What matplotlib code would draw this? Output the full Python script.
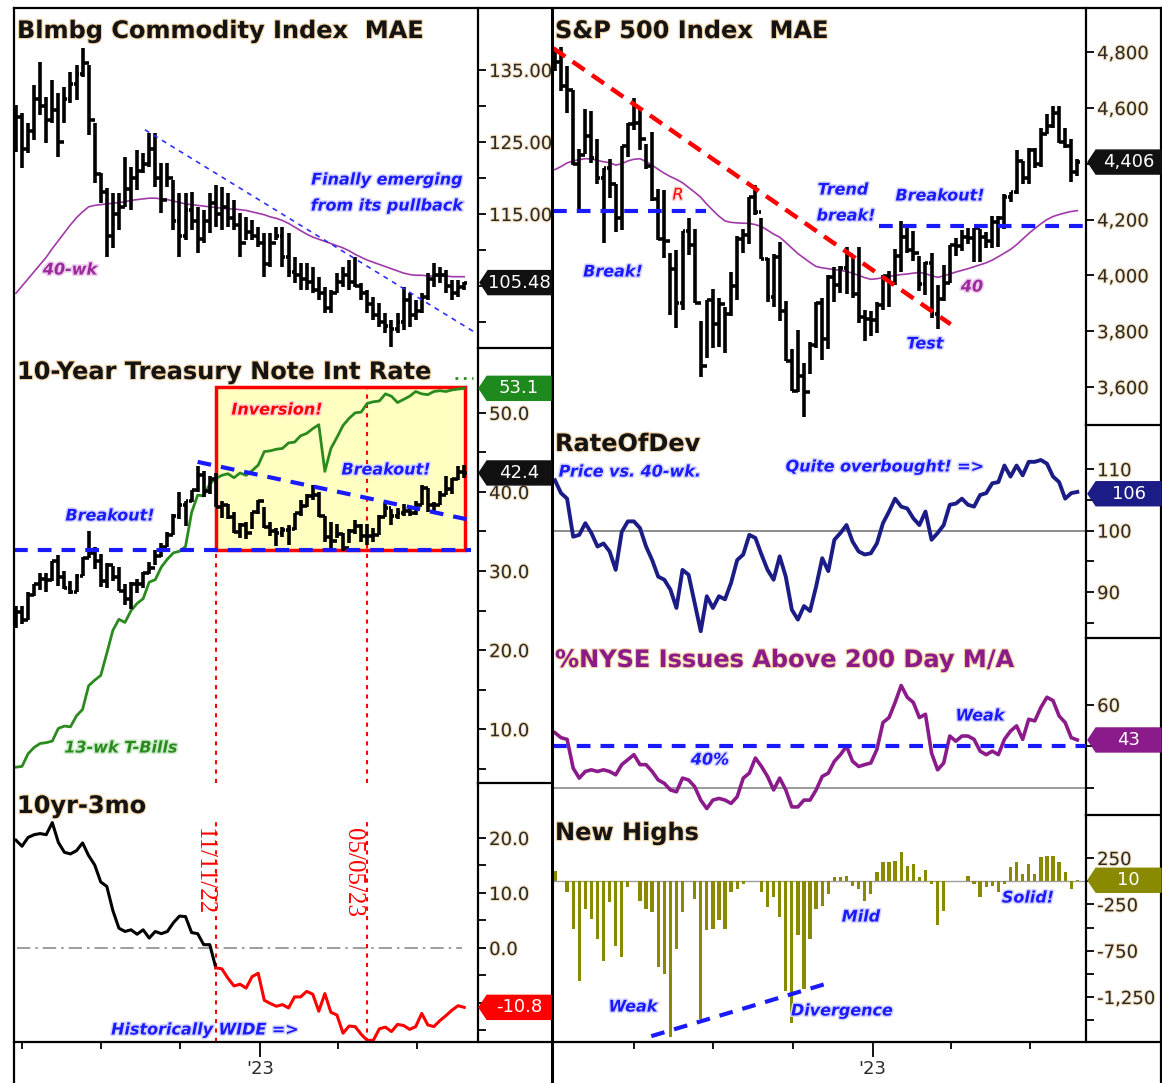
import numpy as np
import pandas as pd
import matplotlib
matplotlib.use("Agg")
import matplotlib.pyplot as plt
import matplotlib.dates as mdates
import matplotlib.patheffects as pe
from matplotlib.lines import Line2D
from matplotlib.patches import Polygon, Rectangle
from matplotlib.ticker import FixedLocator, FixedFormatter

W, H = 1162, 1083

# --- left column: weekly data, week ending 2022-03-25 .. 2023-08-25 ---
bcom_hi = [130.1, 129.0, 127.6, 132.9, 136.1, 131.3, 133.6, 131.8, 132.6, 134.7,
           135.7, 138.1, 135.7, 127.6, 120.7, 118.6, 117.9, 117.9, 122.9, 121.5,
           123.9, 123.5, 126.2, 126.2, 122.1, 122.1, 119.7, 117.9, 117.9, 118.1,
           116.0, 115.6, 117.9, 119.0, 118.8, 117.9, 116.9, 115.1, 114.6, 114.2,
           113.2, 112.4, 112.4, 113.2, 113.2, 112.4, 109.0, 108.2, 108.2, 107.6,
           106.2, 104.9, 104.4, 106.8, 107.6, 108.6, 109.0, 105.4, 104.4, 103.5,
           102.6, 101.3, 100.3, 101.3, 104.9, 104.0, 103.1, 104.0, 106.8, 108.2,
           107.6, 107.2, 105.8, 105.8, 105.6]
bcom_lo = [123.6, 121.4, 123.5, 125.3, 128.8, 124.9, 127.6, 122.9, 127.6, 130.4,
           130.8, 134.0, 126.0, 119.3, 116.5, 109.0, 110.3, 112.8, 116.0, 115.6,
           118.3, 120.7, 121.5, 118.8, 115.1, 118.8, 112.8, 109.0, 111.4, 112.8,
           109.6, 111.0, 112.4, 113.2, 112.8, 113.2, 112.8, 109.0, 111.4, 111.4,
           110.4, 106.2, 107.6, 111.4, 107.6, 106.2, 105.4, 104.4, 104.4, 104.0,
           103.1, 101.3, 101.3, 104.0, 104.9, 104.4, 104.9, 103.1, 101.3, 100.3,
           99.3, 98.5, 96.5, 98.5, 98.9, 99.3, 100.3, 101.3, 103.1, 104.9,
           105.4, 104.0, 103.1, 103.5, 104.4]
bcom_cl = [128.5, 124.0, 126.5, 131.0, 130.0, 128.0, 129.5, 125.0, 131.0, 133.0,
           134.5, 136.0, 128.0, 120.5, 118.0, 112.0, 115.0, 116.0, 118.5, 120.0,
           121.0, 122.0, 124.0, 120.0, 117.0, 120.0, 114.0, 112.0, 115.5, 114.0,
           111.5, 114.0, 116.5, 115.0, 116.0, 114.5, 113.5, 111.0, 112.5, 112.0,
           111.0, 108.0, 111.0, 112.0, 109.0, 107.0, 106.5, 106.0, 105.5, 104.5,
           104.0, 102.0, 104.0, 105.5, 106.5, 105.5, 105.0, 104.0, 102.5, 101.0,
           100.0, 99.5, 99.0, 100.0, 103.0, 101.0, 101.5, 103.5, 106.0, 106.5,
           106.5, 105.0, 104.0, 104.8, 105.48]
bcom_ma40 = [104.0, 105.0, 106.0, 107.0, 108.0, 109.0, 110.2, 111.3, 112.4, 113.5,
             114.5, 115.3, 116.0, 116.2, 116.3, 116.4, 116.5, 116.6, 116.7, 116.9,
             117.0, 117.1, 117.2, 117.2, 117.1, 117.0, 116.8, 116.6, 116.4, 116.3,
             116.2, 116.1, 116.0, 115.9, 115.8, 115.7, 115.7, 115.6, 115.5, 115.3,
             115.1, 114.9, 114.6, 114.4, 114.1, 113.7, 113.2, 112.7, 112.2, 111.8,
             111.5, 111.2, 110.9, 110.6, 110.3, 109.9, 109.4, 109.0, 108.6, 108.3,
             108.0, 107.7, 107.4, 107.1, 106.8, 106.6, 106.5, 106.5, 106.4, 106.4,
             106.4, 106.4, 106.3, 106.3, 106.3]

tnx_hi = [25.6, 25.6, 27.3, 28.4, 29.8, 29.8, 31.3, 32.0, 30.0, 28.7,
          29.6, 31.8, 35.0, 33.0, 32.2, 31.0, 30.7, 30.5, 28.4, 28.6,
          29.0, 29.9, 31.1, 32.7, 33.6, 34.9, 37.2, 40.0, 38.9, 40.2,
          43.3, 42.6, 42.0, 42.4, 38.9, 38.5, 37.5, 36.1, 36.2, 37.5,
          39.0, 38.1, 36.2, 35.5, 35.6, 35.8, 37.4, 39.0, 39.7, 40.9,
          40.0, 36.9, 36.2, 36.0, 34.8, 35.3, 36.4, 36.0, 35.9, 35.4,
          37.1, 38.6, 37.9, 38.0, 38.5, 38.0, 38.8, 40.9, 40.5, 38.7,
          40.1, 42.0, 41.7, 43.3, 43.4]
tnx_lo = [22.8, 23.3, 23.8, 26.8, 27.6, 27.3, 28.7, 28.1, 27.7, 27.1,
          27.3, 29.4, 31.6, 30.2, 28.0, 27.8, 28.7, 27.5, 25.7, 25.2,
          27.2, 27.8, 29.6, 30.8, 31.8, 33.0, 34.5, 36.6, 35.7, 38.7,
          40.0, 39.3, 39.8, 38.1, 36.7, 36.6, 34.8, 34.2, 34.0, 35.3,
          37.2, 35.5, 34.4, 33.2, 34.3, 33.3, 35.2, 37.0, 38.1, 39.0,
          36.8, 33.7, 32.9, 34.2, 32.5, 33.5, 34.7, 33.7, 33.3, 33.7,
          34.5, 36.8, 35.8, 36.6, 36.9, 37.0, 37.1, 38.3, 37.5, 37.4,
          38.4, 39.6, 39.7, 41.5, 41.7]
tnx_cl = [24.8, 23.8, 27.0, 28.3, 29.0, 28.9, 31.3, 29.3, 27.8, 27.4,
          29.4, 31.6, 32.3, 31.3, 28.8, 30.8, 29.3, 27.5, 26.5, 28.3,
          28.4, 29.8, 30.4, 31.9, 33.1, 34.5, 36.9, 38.3, 38.8, 40.2,
          42.2, 40.1, 41.6, 38.1, 38.3, 36.8, 34.9, 35.8, 34.8, 37.5,
          38.8, 35.6, 35.1, 34.8, 35.2, 35.3, 37.4, 38.2, 39.5, 39.6,
          37.0, 34.3, 33.8, 34.7, 32.9, 35.1, 35.7, 34.4, 34.4, 34.6,
          36.8, 38.0, 36.9, 37.4, 37.6, 37.3, 38.4, 40.5, 38.3, 38.4,
          39.6, 40.4, 41.6, 42.5, 42.4]
tbill13 = [5.2, 5.3, 6.9, 7.7, 8.2, 8.3, 8.5, 10.1, 10.4, 10.3,
           11.7, 12.5, 15.5, 16.2, 16.8, 19.6, 22.5, 23.9, 23.5, 25.0,
           25.9, 26.5, 28.6, 28.9, 30.5, 31.5, 32.3, 32.5, 33.1, 37.4,
           39.6, 39.5, 41.0, 41.7, 42.1, 42.3, 41.8, 42.4, 42.1, 42.7,
           43.4, 45.1, 45.2, 45.4, 45.5, 46.2, 46.3, 47.1, 47.4, 48.0,
           48.5, 42.6, 45.5, 46.9, 48.4, 49.3, 50.0, 50.1, 51.2, 51.4,
           51.5, 52.4, 52.1, 51.3, 51.7, 52.1, 52.7, 52.4, 52.3, 52.7,
           52.8, 52.7, 52.9, 53.0, 53.1]
spread_10y3m = [19.6, 18.5, 20.1, 20.6, 20.8, 20.6, 22.8, 19.2, 17.4, 17.1,
                17.7, 19.1, 16.8, 15.1, 12.0, 11.2, 6.8, 3.6, 3.0, 3.3,
                2.5, 3.3, 1.8, 3.0, 2.6, 3.0, 4.6, 5.8, 5.7, 2.8,
                2.6, 0.6, 0.6, -3.6, -3.8, -5.5, -6.9, -6.6, -7.3, -5.2,
                -4.6, -9.5, -10.1, -10.6, -10.3, -10.9, -8.9, -8.9, -7.9, -8.4,
                -11.5, -8.3, -11.7, -12.2, -15.5, -14.2, -14.3, -15.7, -16.8, -16.8,
                -14.7, -14.4, -15.2, -13.9, -14.1, -14.8, -14.3, -11.9, -14.0, -14.3,
                -13.2, -12.3, -11.3, -10.5, -10.8]

# --- right column: weekly data, week ending 2021-12-31 .. 2023-08-25 ---
spx_hi = [4808, 4818, 4749, 4664, 4453, 4595, 4590, 4489, 4385, 4416, 4327,
          4465, 4546, 4637, 4595, 4472, 4513, 4308, 4307, 4081, 4090,
          4158, 4204, 4168, 3838, 3913, 3950, 3918, 3886, 4012, 4140,
          4167, 4280, 4325, 4204, 4062, 4076, 4119, 3907, 3736, 3806,
          3685, 3762, 3905, 3920, 4001, 4029, 4034, 4101, 4065, 4100,
          3877, 3872,
          3906, 4003, 4016, 4095, 4195, 4182, 4159, 4068, 4049, 4079,
          3964, 4039, 4110, 4133, 4163, 4169, 4170, 4167, 4154, 4212,
          4212, 4290, 4299, 4448, 4409, 4458, 4455, 4528, 4578, 4607,
          4607, 4527, 4490, 4418]
spx_lo = [4733, 4662, 4582, 4395, 4223, 4436, 4401, 4327, 4115, 4279, 4157,
          4161, 4424, 4522, 4451, 4381, 4267, 4128, 4062, 3859, 3811,
          3876, 4074, 3900, 3637, 3705, 3741, 3742, 3722, 3854, 3913,
          4080, 4112, 4218, 4057, 3906, 3886, 3838, 3693, 3585, 3584,
          3491, 3648, 3740, 3698, 3737, 3906, 3938, 3933, 3918, 3828,
          3764, 3783,
          3794, 3877, 3886, 3966, 4013, 4080, 4051, 3944, 3928, 3847,
          3809, 3910, 3973, 4069, 4086, 4113, 4049, 4048, 4099, 4098,
          4103, 4166, 4262, 4290, 4328, 4328, 4385, 4389, 4505, 4528,
          4474, 4458, 4335, 4356]
spx_cl = [4766, 4677, 4663, 4398, 4432, 4501, 4419, 4349, 4385, 4329, 4204,
          4463, 4543, 4546, 4488, 4392, 4272, 4132, 4123, 4023, 3901,
          4158, 4108, 3901, 3675, 3912, 3825, 3899, 3863, 3962, 4130,
          4145, 4280, 4228, 4058, 3924, 4067, 3873, 3693, 3586, 3639,
          3583, 3752, 3901, 3771, 3993, 3965, 4026, 4072, 3934, 3852,
          3845, 3840,
          3895, 3999, 3973, 4071, 4136, 4090, 4079, 3970, 4046, 3862,
          3917, 3971, 4109, 4105, 4138, 4133, 4169, 4136, 4124, 4192,
          4205, 4282, 4299, 4410, 4348, 4450, 4399, 4505, 4536, 4582,
          4478, 4464, 4370, 4406]
spx_ma40 = [4379, 4390, 4403, 4410, 4415, 4418, 4417, 4412, 4407, 4404,
            4395, 4400, 4410, 4416, 4418, 4408, 4395, 4380, 4366, 4354,
            4344, 4332, 4315, 4298, 4280, 4255, 4233, 4212, 4195, 4190,
            4188, 4187, 4186, 4182, 4175, 4162, 4148, 4137, 4118, 4098,
            4078, 4062, 4046, 4032, 4027, 4024, 4021, 4018, 4014, 4008,
            4000, 3992, 3986, 3988, 3992, 3996, 4000, 4003, 4005, 4008,
            4011, 4006, 3999, 3993, 3998, 4005, 4012, 4018, 4024, 4031,
            4038, 4045, 4055, 4067, 4080, 4093, 4110, 4130, 4150, 4168,
            4185, 4200, 4211, 4218, 4224, 4229, 4232]
rate_of_dev = [108.2, 106.1, 105.2, 99.0, 99.3, 101.2, 99.6, 97.4, 97.9, 96.6,
               93.6, 99.8, 101.5, 101.5, 100.4, 97.4, 95.2, 92.5, 92.0, 90.4,
               87.4, 93.6, 92.8, 88.2, 83.6, 89.3, 87.4, 89.3, 88.8, 91.5,
               95.2, 96.1, 99.3, 98.8, 96.1, 93.6, 92.0, 95.8, 92.5, 87.1,
               85.5, 87.7, 86.9, 90.9, 95.5, 93.4, 98.5, 99.6, 100.9, 98.2,
               96.6, 96.1, 96.3, 97.9, 101.2, 103.1, 105.2, 103.9, 103.6, 102.0,
               100.9, 103.1, 98.5, 99.6, 100.9, 104.2, 104.4, 105.2, 104.2, 103.9,
               105.8, 106.1, 107.7, 107.9, 110.6, 108.8, 110.6, 109.0, 111.2, 111.2,
               111.5, 110.9, 108.8, 107.9, 105.2, 106.1, 106.3]
nyse_above200 = [46.5, 44.1, 43.3, 29.4, 24.6, 27.8, 28.6, 27.8, 28.6, 27.8,
                 26.2, 31.1, 33.5, 35.9, 31.1, 31.1, 27.8, 23.7, 22.1, 18.9,
                 18.0, 24.6, 23.7, 20.5, 14.0, 9.9, 14.0, 14.8, 14.0, 12.4,
                 15.6, 24.6, 27.0, 34.3, 30.2, 25.4, 18.9, 24.6, 18.9, 10.7,
                 10.7, 14.0, 14.0, 18.9, 25.4, 27.0, 32.7, 35.9, 40.0, 32.7,
                 30.2, 31.1, 31.9, 38.4, 51.4, 53.8, 61.1, 69.3, 63.6, 61.1,
                 53.8, 55.4, 36.7, 28.6, 31.9, 44.9, 42.4, 44.9, 44.9, 43.3,
                 37.6, 35.9, 37.6, 35.9, 43.3, 47.3, 49.8, 43.3, 53.0, 52.2,
                 58.7, 63.6, 62.0, 54.6, 51.4, 44.1, 43.0]
new_highs = [115, 7, -119, -514, -1072, -299, -406, -622, -856, -227,
             -694, -820, -65, 0, -209, -299, -335, -928, -1000, -1683,
             -730, -335, 7, -191, -1486, -532, -514, -424, -514, -119,
             -83, -29, 7, 7, -119, -281, -173, -388, -1180, -1529,
             -586, -1162, -622, -299, -263, -137, 43, 43, 61, -47,
             -83, -209, -137, 97, 205, 205, 223, 313, 169, 187,
             43, 122, -29, -478, -317, 7, 7, 7, 61, -29,
             -173, -65, -47, -112, -29, 151, 205, 79, 187, 79,
             259, 277, 277, 205, 97, -83, 10]

# --- date axis ticks ---
year_ticks = ["2023-01-01"]
year_labels = ["'23"]
quarter_ticks = ["2022-04-01", "2022-07-01", "2022-10-01", "2023-04-01", "2023-07-01"]


def d(s):
    return mdates.date2num(pd.Timestamp(s))


left_dates = mdates.date2num(pd.date_range("2022-03-25", periods=len(bcom_cl), freq="W-FRI"))
right_dates = mdates.date2num(pd.date_range("2021-12-31", periods=len(spx_cl), freq="W-FRI"))
left_xlim = (d("2022-03-22 18:00"), d("2023-09-10 00:00"))
right_xlim = (d("2021-12-28 18:00"), d("2023-09-04 00:00"))

fig = plt.figure(figsize=(W / 100, H / 100), dpi=100)
fig.patch.set_facecolor("white")

BLUE = "#1a1aff"
RED = "#ff0000"
GREEN = "#2a8a1e"
PURPLE = "#8b1a8b"
NAVY = "#1c1c86"
OLIVE = "#8a8a00"

title_kw = dict(fontsize=17.3, fontweight="bold", color="#141414", ha="left", va="center",
                path_effects=[pe.withStroke(linewidth=1.6, foreground="#f2d2a4")])
note_kw = dict(fontsize=11.5, fontstyle="italic", fontweight="bold", ha="center", va="center")
tick_glow = [pe.withStroke(linewidth=1.6, foreground="#f3dcb8")]


def fx(x):
    return x / W


def fy(y):
    return 1 - y / H


def ftext(x, y, s, **kw):
    return fig.text(fx(x), fy(y), s, **kw)


def note(x, y, s, color=BLUE, glow="#d4d4ff", **kw):
    opts = dict(note_kw, color=color, path_effects=[pe.withStroke(linewidth=2.2, foreground=glow)])
    opts.update(kw)
    return ftext(x, y, s, **opts)


def fline(x0, y0, x1, y1, lw=1.6, color="black"):
    fig.add_artist(Line2D([fx(x0), fx(x1)], [fy(y0), fy(y1)], lw=lw, color=color,
                          transform=fig.transFigure))


def px_axes(x0, y0, x1, y1, xlim, ylim):
    ax = fig.add_axes([fx(x0), fy(y1), (x1 - x0) / W, (y1 - y0) / H])
    ax.patch.set_visible(False)
    for side in ("left", "top", "bottom"):
        ax.spines[side].set_visible(False)
    ax.spines["right"].set_linewidth(1.6)
    ax.yaxis.tick_right()
    ax.tick_params(axis="y", which="both", direction="out", length=6, width=1.3,
                   labelsize=13, pad=2, labelcolor="#2a2a2a")
    ax.tick_params(axis="x", which="both", bottom=False, labelbottom=False)
    ax.set_xlim(xlim)
    ax.set_ylim(ylim)
    return ax


def y_ticks(ax, major, labels, minor=()):
    ax.yaxis.set_major_locator(FixedLocator(major))
    ax.yaxis.set_major_formatter(FixedFormatter(labels))
    ax.yaxis.set_minor_locator(FixedLocator(list(minor)))
    for t in ax.get_yticklabels():
        t.set_path_effects(tick_glow)


def date_axis(ax):
    ax.xaxis.set_major_locator(FixedLocator([d(t) for t in year_ticks]))
    ax.xaxis.set_major_formatter(FixedFormatter(year_labels))
    ax.xaxis.set_minor_locator(FixedLocator([d(t) for t in quarter_ticks]))
    ax.tick_params(axis="x", which="both", bottom=True, direction="out", width=1.3)
    ax.tick_params(axis="x", which="major", length=11, labelbottom=True, labelsize=13,
                   pad=2, labelcolor="#2a2a2a")
    ax.tick_params(axis="x", which="minor", length=5)


def draw_bars(ax, x, hi, lo, cl, lw=2.6, tick=3.4):
    x = np.asarray(x)
    cl = np.asarray(cl, dtype=float)
    ax.vlines(x, lo, hi, color="black", lw=lw, zorder=4)
    ax.hlines(cl, x, x + tick, color="black", lw=lw, zorder=4)
    ax.hlines(cl[:-1], x[1:] - tick, x[1:], color="black", lw=lw, zorder=4)


def value_tag(ax, val, text, color, x_tip, x_end, h=24):
    y_disp = ax.transData.transform((ax.get_xlim()[0], val))[1]
    y = H - y_disp
    body = x_tip + 8
    pts = [(fx(x_tip), fy(y)), (fx(body), fy(y - h / 2)), (fx(x_end), fy(y - h / 2)),
           (fx(x_end), fy(y + h / 2)), (fx(body), fy(y + h / 2))]
    fig.add_artist(Polygon(pts, closed=True, facecolor=color, edgecolor=color,
                           transform=fig.transFigure, zorder=5))
    ftext((body + x_end) / 2, y, text, color="white", fontsize=13, ha="center",
          va="center", zorder=6)


# ---------------- left column ----------------
a1 = px_axes(14, 8, 478, 348, left_xlim, (96.4, 143.6))
y_ticks(a1, [105, 115, 125, 135], ["", "115.00", "125.00", "135.00"], [100, 110, 120, 130])
a1.plot(left_dates, bcom_ma40, color="#a03aa8", lw=1.2, zorder=3)
draw_bars(a1, left_dates, bcom_hi, bcom_lo, bcom_cl)
a1.plot([d("2022-08-21"), d("2023-09-06")], [126.7, 98.6], color="#3030ff", lw=1.2,
        ls=(0, (3, 3)), zorder=5)

a2 = px_axes(14, 348, 478, 783, left_xlim, (3.2, 58.2))
y_ticks(a2, [10, 20, 30, 40, 50], ["10.0", "20.0", "30.0", "40.0", "50.0"], [5, 15, 25, 35, 45])
a2.add_patch(Rectangle((d("2022-11-11"), 32.6), d("2023-08-26") - d("2022-11-11"), 53.3 - 32.6,
                       facecolor="#ffffc2", edgecolor=RED, lw=2.5, zorder=1))
a2.plot(left_dates, tbill13, color=GREEN, lw=2.0, zorder=3)
draw_bars(a2, left_dates, tnx_hi, tnx_lo, tnx_cl)
a2.plot([left_xlim[0], d("2023-09-02")], [32.6, 32.6], color=BLUE, lw=3, ls=(0, (3.3, 2.4)), zorder=6)
a2.plot([d("2022-10-21"), d("2023-08-30")], [43.8, 36.5], color=BLUE, lw=3, ls=(0, (3.3, 2.4)), zorder=6)
a2.vlines([d("2022-11-11")], 3.2, 32.6, color=RED, lw=1.5, linestyles=[(0, (2, 2.5))], zorder=2)
a2.vlines([d("2023-05-05")], 3.2, 53.3, color=RED, lw=1.5, linestyles=[(0, (2, 2.5))], zorder=2)
a2.plot([d("2023-08-14"), d("2023-09-04")], [54.4, 54.4], color=GREEN, lw=2, ls=(0, (1, 2)),
        zorder=3, clip_on=False)

a3 = px_axes(14, 783, 478, 1042, left_xlim, (-17.1, 30))
y_ticks(a3, [-10, 0, 10, 20], ["", "0.0", "10.0", "20.0"], [-15, -5, 5, 15])
date_axis(a3)
a3.axhline(0, xmin=0.006, xmax=0.965, color="#8c8c8c", lw=1.2, ls=(0, (8, 3, 1.5, 3)), zorder=1)
a3.plot(left_dates[:34], spread_10y3m[:34], color="black", lw=2.2, zorder=3)
a3.plot(left_dates[33:], spread_10y3m[33:], color=RED, lw=2.2, zorder=3)
a3.vlines([d("2022-11-11"), d("2023-05-05")], -17.1, 23, color=RED, lw=1.5,
          linestyles=[(0, (2, 2.5))], zorder=2)

# ---------------- right column ----------------
b1 = px_axes(553, 8, 1086, 425, right_xlim, (3464, 4958))
y_ticks(b1, [3600, 3800, 4000, 4200, 4400, 4600, 4800],
        ["3,600", "3,800", "4,000", "4,200", "", "4,600", "4,800"])
b1.plot(right_dates, spx_ma40, color="#a03aa8", lw=1.2, zorder=3)
draw_bars(b1, right_dates, spx_hi, spx_lo, spx_cl)
b1.plot([d("2021-12-29"), d("2023-04-01")], [4814, 3825], color=RED, lw=3.2,
        ls=(0, (3.3, 2.0)), zorder=6)
b1.plot([right_xlim[0], d("2022-06-23")], [4230, 4230], color=BLUE, lw=3, ls=(0, (3.3, 2.4)), zorder=6)
b1.plot([d("2023-01-09"), right_xlim[1]], [4178, 4178], color=BLUE, lw=3, ls=(0, (3.3, 2.4)), zorder=6)

b2 = px_axes(553, 425, 1086, 638, right_xlim, (82.5, 117.2))
y_ticks(b2, [90, 100, 110], ["90", "100", "110"], [85, 95, 105])
b2.axhline(100, color="#7a7a7a", lw=1.2, zorder=1)
b2.plot(right_dates, rate_of_dev, color=NAVY, lw=2.8, zorder=3)

b3 = px_axes(553, 638, 1086, 815, right_xlim, (6.8, 92.2))
y_ticks(b3, [20, 40, 60], ["", "", "60"])
b3.axhline(20, color="#8a8a8a", lw=1.2, zorder=1)
b3.axhline(40, color=BLUE, lw=3, ls=(0, (3.3, 2.4)), zorder=4)
b3.plot(right_dates, nyse_above200, color=PURPLE, lw=2.6, zorder=3)

b4 = px_axes(553, 815, 1086, 1042, right_xlim, (-1735, 714))
y_ticks(b4, [-1250, -750, -250, 250], ["-1,250", "-750", "-250", "250"], [-1500, -1000, -500, 0])
date_axis(b4)
b4.axhline(0, color="#a0a0a0", lw=1, zorder=1)
b4.bar(right_dates, new_highs, width=3.8, color=OLIVE, zorder=3)
b4.plot([d("2022-04-21"), d("2022-11-07")], [-1672, -1111], color=BLUE, lw=3,
        ls=(0, (3.3, 2.4)), zorder=5)

# ---------------- frame lines ----------------
fline(14, 8, 1161, 8)
fline(14, 8, 14, 1083)
fline(551.5, 8, 551.5, 1083, lw=2.2)
fline(1161, 8, 1161, 1083)
fline(14, 1042, 1161, 1042)
for yy in (348, 783):
    fline(478, yy, 551, yy)
for yy in (425, 638, 815):
    fline(1086, yy, 1161, yy)

# ---------------- value tags ----------------
value_tag(a1, 105.48, "105.48", "#111111", 480, 551)
value_tag(a2, 53.1, "53.1", "#1e8a1e", 479, 551)
value_tag(a2, 42.4, "42.4", "#111111", 479, 551)
value_tag(a3, -10.8, "-10.8", RED, 479, 551)
value_tag(b1, 4406, "4,406", "#111111", 1088, 1161)
value_tag(b2, 106, "106", NAVY, 1088, 1161)
value_tag(b3, 43, "43", PURPLE, 1088, 1161)
value_tag(b4, 10, "10", OLIVE, 1088, 1161)

# ---------------- titles ----------------
ftext(17, 31, "Blmbg Commodity Index  MAE", **title_kw)
ftext(17, 372, "10-Year Treasury Note Int Rate", **title_kw)
ftext(17, 806, "10yr-3mo", **title_kw)
ftext(555, 31, "S&P 500 Index  MAE", **title_kw)
ftext(555, 444, "RateOfDev", **title_kw)
ftext(555, 660, "%NYSE Issues Above 200 Day M/A", **dict(title_kw, color=PURPLE))
ftext(555, 833, "New Highs", **title_kw)

# ---------------- notes ----------------
note(387, 180, "Finally emerging")
note(387, 206, "from its pullback")
note(70, 270, "40-wk", color="#9a2a9a", glow="#ecc8ec")
note(277, 410, "Inversion!", color=RED, glow="#ffd0d0")
note(386, 470, "Breakout!")
note(110, 516, "Breakout!")
note(121, 748, "13-wk T-Bills", color=GREEN, glow="#cdeccd")
ftext(204, 872, "11/11/22", color=RED, fontsize=18, family="Liberation Serif",
      rotation=-90, ha="center", va="center")
ftext(353, 872, "05/05/23", color=RED, fontsize=18, family="Liberation Serif",
      rotation=-90, ha="center", va="center")
note(205, 1030, "Historically WIDE =>")

note(678, 195, "R", color=RED, glow="#ffd0d0", fontweight="normal")
note(613, 272, "Break!")
note(843, 190, "Trend")
note(846, 216, "break!")
note(940, 196, "Breakout!")
note(972, 287, "40", color="#9a2a9a", glow="#ecc8ec")
note(925, 344, "Test")
note(630, 472, "Price vs. 40-wk.")
note(885, 467, "Quite overbought! =>")
note(710, 760, "40%")
note(980, 716, "Weak")
note(633, 1007, "Weak")
note(842, 1011, "Divergence")
note(861, 917, "Mild")
note(1028, 898, "Solid!")

fig.savefig("out.png", dpi=100)
